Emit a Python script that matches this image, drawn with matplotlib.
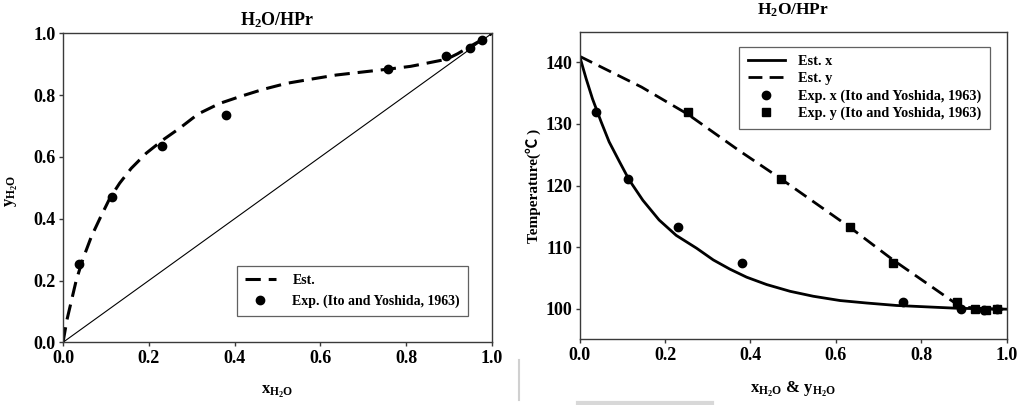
import matplotlib
matplotlib.use('Agg')
import matplotlib.pyplot as plt
from matplotlib.lines import Line2D

plt.rcParams['font.family'] = ['Liberation Serif', 'DejaVu Serif']
plt.rcParams['font.weight'] = 'bold'
plt.rcParams['mathtext.fontset'] = 'custom'
plt.rcParams['mathtext.rm'] = 'Liberation Serif:bold'
plt.rcParams['mathtext.it'] = 'Liberation Serif:bold'
plt.rcParams['mathtext.bf'] = 'Liberation Serif:bold'
plt.rcParams['mathtext.default'] = 'rm'

# ---- experimental VLE data, H2O / propionic acid (Ito and Yoshida, 1963)
x_exp = [0.038, 0.114, 0.231, 0.381, 0.758, 0.892, 0.948, 0.977]
y_exp = [0.253, 0.471, 0.634, 0.735, 0.883, 0.927, 0.952, 0.977]
T_exp = [131.9, 121.1, 113.2, 107.4, 101.1, 100.0, 99.8, 99.9]

# ---- estimated y-x curve
x_est_yx = [0.0, 0.009, 0.020, 0.031, 0.047, 0.066, 0.086, 0.109, 0.132,
            0.159, 0.194, 0.233, 0.272, 0.315, 0.365, 0.412, 0.465, 0.521,
            0.580, 0.637, 0.700, 0.758, 0.810, 0.847, 0.894, 0.920, 0.948,
            0.975, 1.0]
y_est_yx = [0.0, 0.072, 0.137, 0.202, 0.272, 0.342, 0.401, 0.466, 0.515,
            0.563, 0.612, 0.655, 0.693, 0.739, 0.773, 0.795, 0.818, 0.838,
            0.852, 0.865, 0.875, 0.884, 0.893, 0.903, 0.916, 0.934, 0.957,
            0.978, 1.0]

# ---- estimated T-x (bubble) curve
x_est = [0.0, 0.015, 0.030, 0.050, 0.069, 0.093, 0.116, 0.148, 0.186,
         0.226, 0.274, 0.313, 0.352, 0.391, 0.438, 0.493, 0.547, 0.610,
         0.672, 0.742, 0.820, 0.883, 0.950, 1.0]
T_est_x = [141.0, 137.4, 134.1, 130.4, 127.1, 123.9, 120.9, 117.6, 114.4,
           111.9, 109.8, 107.9, 106.4, 105.1, 103.9, 102.8, 102.0, 101.3,
           100.9, 100.5, 100.25, 100.05, 99.95, 99.9]

# ---- estimated T-y (dew) curve
y_est = [0.0, 0.145, 0.253, 0.375, 0.469, 0.633, 0.734, 0.813, 0.875, 0.891,
         0.950, 1.0]
T_est_y = [141.0, 136.0, 131.6, 125.6, 121.2, 113.2, 107.9, 104.1, 101.1, 100.3,
           99.95, 99.9]

title = 'H$_2$O/HPr'
xticks = [0.0, 0.2, 0.4, 0.6, 0.8, 1.0]
yticks_l = [0.0, 0.2, 0.4, 0.6, 0.8, 1.0]
yticks_r = [100, 110, 120, 130, 140]

spine_col = '#3a3a3a'
tick_fs = 13
label_fs = 12
leg_fs = 10
dash = (5, 2.6)

fig = plt.figure(figsize=(10.2, 4.05), dpi=100)
ax1 = fig.add_axes([0.0618, 0.1548, 0.4206, 0.7630])
ax2 = fig.add_axes([0.5683, 0.1622, 0.4186, 0.7595])


def style(ax):
    for s in ax.spines.values():
        s.set_color(spine_col)
        s.set_linewidth(1.0)
    ax.tick_params(direction='out', length=3, width=1, color=spine_col,
                   top=False, right=False, labelsize=tick_fs, pad=2.5)
    for lab in ax.get_xticklabels() + ax.get_yticklabels():
        lab.set_fontweight('bold')


# ---- left: y-x diagram
ax1.plot([0, 1], [0, 1], color='black', lw=0.8)
ax1.plot(x_est_yx, y_est_yx, color='black', lw=2.2, dashes=dash, label='Est.')
ax1.plot(x_exp, y_exp, 'o', color='black', ms=6, label='Exp. (Ito and Yoshida, 1963)')
ax1.set_xlim(0, 1)
ax1.set_ylim(0, 1)
ax1.set_xticks(xticks)
ax1.set_yticks(yticks_l)
ax1.set_xticklabels([f'{v:.1f}' for v in xticks])
ax1.set_yticklabels([f'{v:.1f}' for v in yticks_l])
style(ax1)
t1 = ax1.set_title(title, fontsize=13, fontweight='bold', y=1.043, pad=0)
t1.set_va('center')
ax1.set_xlabel('x$_{H_2O}$', fontsize=label_fs, fontweight='bold', va='center')
ax1.xaxis.set_label_coords(0.5, -0.162)
ax1.set_ylabel('y$_{H_2O}$', fontsize=label_fs, fontweight='bold', va='center')
ax1.yaxis.set_label_coords(-0.12, 0.49)
leg1 = ax1.legend(loc='upper left', bbox_to_anchor=(0.405, 0.247), fontsize=leg_fs,
                  frameon=True, fancybox=False, edgecolor=spine_col,
                  handlelength=2.2, borderpad=0.6, labelspacing=0.5,
                  handletextpad=1.2, borderaxespad=0)
leg1.get_frame().set_linewidth(0.9)

# ---- right: T-x-y diagram
ax2.plot(x_est, T_est_x, color='black', lw=2.0, label='Est. x')
ax2.plot(y_est, T_est_y, color='black', lw=2.0, dashes=dash, label='Est. y')
ax2.plot(x_exp, T_exp, 'o', color='black', ms=6, label='Exp. x (Ito and Yoshida, 1963)')
ax2.plot(y_exp, T_exp, 's', color='black', ms=5.5, label='Exp. y (Ito and Yoshida, 1963)')
ax2.set_xlim(0, 1)
ax2.set_ylim(95, 145)
ax2.set_xticks(xticks)
ax2.set_yticks(yticks_r)
ax2.set_xticklabels([f'{v:.1f}' for v in xticks])
style(ax2)
t2 = ax2.set_title(title, fontsize=12.5, fontweight='bold', y=1.0705, pad=0)
t2.set_va('center')
ax2.set_xlabel('x$_{H_2O}$ & y$_{H_2O}$', fontsize=label_fs, fontweight='bold', va='center')
ax2.xaxis.set_label_coords(0.5, -0.162)
ax2.set_ylabel('Temperature(\u2103 )', fontsize=11, fontweight='bold', va='center',
               family=['Liberation Serif', 'Noto Sans CJK SC', 'DejaVu Sans'])
ax2.yaxis.set_label_coords(-0.109, 0.5)
leg2 = ax2.legend(loc='upper left', bbox_to_anchor=(0.373, 0.951), fontsize=10.3,
                  frameon=True, fancybox=False, edgecolor=spine_col,
                  handlelength=2.6, borderpad=0.6, labelspacing=0.28,
                  handletextpad=0.95, borderaxespad=0)
leg2.get_frame().set_linewidth(0.9)

# faint page-edge marks along the lower border
fig.add_artist(Line2D([519 / 1020, 519 / 1020], [1 - 360 / 405, 1 - 400 / 405],
                      transform=fig.transFigure, color='#d0d0d0', lw=1.5))
fig.add_artist(Line2D([578 / 1020, 712 / 1020], [1 - 403 / 405, 1 - 403 / 405],
                      transform=fig.transFigure, color='#d8d8d8', lw=3))

fig.savefig('out.png', dpi=100)
